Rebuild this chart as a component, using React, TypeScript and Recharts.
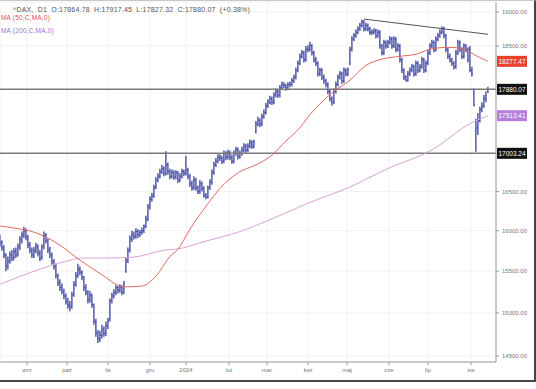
import React from 'react';
import { ComposedChart, Bar, Line, XAxis, YAxis, CartesianGrid, ReferenceLine } from 'recharts';

const monthLabels = ['wrz', 'paź', 'lis', 'gru', '2024', 'lut', 'mar', 'kwi', 'maj', 'cze', 'lip', 'sie'];
const monthTicks = [13.5, 33.5, 54, 75, 93, 114.5, 133.5, 154, 173.5, 194.5, 214, 235.5];
const yTicks = [14500, 15000, 15500, 16000, 16500, 18500, 19000];

const opens = [
  15900, 15850, 15780, 15690, 15560, 15630, 15700, 15670, 15740, 15710,
  15800, 15880, 15950, 15990, 15910, 15820, 15760, 15700, 15760, 15800,
  15720, 15670, 15800, 15940, 15870, 15770, 15700, 15620, 15560, 15440,
  15370, 15300, 15250, 15200, 15130, 15100, 15080, 15220, 15340, 15450,
  15520, 15480, 15420, 15300, 15240, 15160, 15200, 15090, 14900, 14770,
  14700, 14740, 14810, 14760, 14850, 14920, 15150, 15200, 15240, 15300,
  15270, 15300, 15250, 15500, 15630, 15760, 15890, 15950, 15930, 15990,
  15950, 15980, 16000, 16060, 16150, 16300, 16400, 16450, 16560, 16650,
  16700, 16760, 16800, 16740, 16850, 16760, 16700, 16750, 16690, 16740,
  16650, 16700, 16760, 16740, 16780, 16700, 16600, 16550, 16650, 16550,
  16500, 16600, 16540, 16450, 16430, 16550, 16620, 16750, 16850, 16900,
  16950, 16940, 16900, 17000, 16950, 17010, 16950, 16900, 17000, 17050,
  16960, 17000, 17050, 17100, 17050, 17100, 17150, 17100, 17300, 17400,
  17450, 17400, 17500, 17560, 17650, 17700, 17750, 17700, 17800, 17850,
  17800, 17900, 17950, 17930, 17900, 17950, 17950, 18000, 18050, 18150,
  18250, 18350, 18400, 18300, 18450, 18450, 18500, 18400, 18300, 18250,
  18100, 18150, 18050, 18000, 17950, 17850, 17750, 17700, 17850, 17950,
  18050, 18100, 18000, 18150, 18100, 18250, 18450, 18600, 18650, 18700,
  18750, 18800, 18850, 18750, 18800, 18750, 18700, 18700, 18720, 18650,
  18700, 18500, 18400, 18550, 18500, 18550, 18600, 18500, 18600, 18450,
  18500, 18300, 18150, 18050, 18000, 18100, 18150, 18200, 18100, 18250,
  18150, 18200, 18300, 18150, 18250, 18400, 18500, 18550, 18450, 18600,
  18650, 18700, 18750, 18650, 18450, 18350, 18300, 18250, 18200, 18400,
  18550, 18450, 18350, 18500, 18450, 18450, 18150, 17880, 17300, 17350,
  17450, 17600, 17650, 17750, 17864.78,
];

const highs = [
  15950, 15880, 15820, 15720, 15680, 15740, 15760, 15780, 15790, 15840,
  15930, 15990, 16050, 16030, 15950, 15860, 15790, 15800, 15850, 15830,
  15760, 15830, 15990, 15970, 15900, 15800, 15730, 15650, 15590, 15470,
  15400, 15350, 15290, 15230, 15180, 15140, 15250, 15380, 15490, 15590,
  15560, 15510, 15440, 15340, 15270, 15260, 15230, 15110, 14930, 14800,
  14790, 14860, 14840, 14900, 14940, 15170, 15240, 15280, 15330, 15320,
  15340, 15330, 15380, 15660, 15790, 15940, 16000, 15990, 16030, 16020,
  16010, 16040, 16080, 16190, 16340, 16440, 16480, 16590, 16690, 16740,
  16800, 16850, 16830, 17030, 16880, 16800, 16790, 16780, 16780, 16770,
  16740, 16800, 16790, 16970, 16810, 16730, 16640, 16700, 16680, 16580,
  16650, 16630, 16570, 16480, 16580, 16660, 16790, 16890, 16940, 16990,
  16990, 16970, 17040, 17030, 17050, 17040, 16980, 17040, 17090, 17080,
  17040, 17090, 17140, 17130, 17140, 17190, 17180, 17190, 17440, 17500,
  17480, 17540, 17600, 17690, 17740, 17790, 17780, 17840, 17890, 17880,
  17940, 17990, 17980, 17960, 17980, 17990, 18040, 18090, 18190, 18290,
  18390, 18440, 18430, 18500, 18510, 18560, 18530, 18430, 18340, 18280,
  18190, 18180, 18090, 18030, 17980, 17880, 17780, 17890, 17990, 18090,
  18140, 18130, 18190, 18180, 18190, 18490, 18640, 18690, 18740, 18790,
  18840, 18890, 18880, 18840, 18830, 18780, 18740, 18760, 18750, 18740,
  18730, 18530, 18590, 18580, 18590, 18640, 18630, 18640, 18630, 18540,
  18530, 18330, 18180, 18080, 18140, 18190, 18240, 18230, 18290, 18280,
  18240, 18340, 18330, 18290, 18440, 18540, 18590, 18580, 18640, 18690,
  18740, 18790, 18780, 18680, 18480, 18390, 18330, 18280, 18440, 18590,
  18580, 18480, 18540, 18530, 18480, 18500, 18200, 17890, 17470, 17550,
  17640, 17700, 17800, 17850, 17917.45,
];

const lows = [
  15800, 15750, 15660, 15500, 15520, 15590, 15620, 15630, 15660, 15680,
  15760, 15840, 15910, 15880, 15780, 15720, 15660, 15660, 15720, 15680,
  15620, 15640, 15770, 15840, 15720, 15660, 15580, 15520, 15410, 15320,
  15260, 15220, 15160, 15100, 15050, 15020, 15050, 15190, 15310, 15420,
  15450, 15390, 15260, 15210, 15110, 15120, 15060, 14860, 14720, 14650,
  14660, 14700, 14720, 14730, 14810, 14900, 15110, 15170, 15210, 15230,
  15240, 15210, 15220, 15480, 15600, 15730, 15860, 15890, 15900, 15910,
  15920, 15950, 15970, 16030, 16120, 16270, 16370, 16420, 16530, 16620,
  16670, 16730, 16700, 16710, 16720, 16660, 16670, 16650, 16660, 16610,
  16620, 16670, 16700, 16710, 16660, 16560, 16510, 16520, 16510, 16470,
  16470, 16500, 16420, 16400, 16410, 16520, 16590, 16720, 16820, 16870,
  16900, 16860, 16870, 16910, 16920, 16910, 16860, 16870, 16970, 16920,
  16930, 16970, 17020, 17010, 17020, 17070, 17060, 17070, 17270, 17370,
  17360, 17370, 17470, 17530, 17620, 17670, 17660, 17670, 17770, 17760,
  17770, 17870, 17900, 17860, 17870, 17910, 17920, 17970, 18020, 18120,
  18220, 18320, 18260, 18270, 18410, 18420, 18360, 18260, 18210, 18060,
  18070, 18010, 17960, 17910, 17810, 17710, 17650, 17670, 17820, 17920,
  18020, 17960, 17970, 18060, 18070, 18220, 18420, 18570, 18620, 18670,
  18720, 18770, 18710, 18720, 18710, 18660, 18660, 18670, 18610, 18620,
  18460, 18360, 18370, 18460, 18470, 18520, 18460, 18470, 18410, 18420,
  18260, 18110, 18010, 17990, 17990, 18070, 18120, 18060, 18070, 18110,
  18120, 18170, 18110, 18120, 18220, 18370, 18470, 18410, 18420, 18570,
  18620, 18670, 18610, 18410, 18310, 18260, 18210, 18160, 18170, 18370,
  18410, 18310, 18320, 18410, 18260, 18120, 18060, 17640, 17024, 17250,
  17420, 17560, 17620, 17700, 17827.32,
];

const closes = [
  15850, 15790, 15700, 15560, 15620, 15700, 15660, 15740, 15700, 15800,
  15890, 15940, 16000, 15920, 15820, 15760, 15700, 15750, 15800, 15720,
  15660, 15800, 15940, 15880, 15760, 15700, 15620, 15560, 15450, 15360,
  15300, 15260, 15200, 15140, 15090, 15070, 15210, 15340, 15440, 15520,
  15490, 15430, 15300, 15250, 15150, 15210, 15100, 14900, 14760, 14700,
  14740, 14800, 14760, 14850, 14900, 15140, 15200, 15240, 15300, 15270,
  15300, 15250, 15350, 15620, 15750, 15900, 15950, 15930, 15990, 15950,
  15980, 16000, 16050, 16150, 16300, 16400, 16440, 16550, 16650, 16700,
  16760, 16800, 16740, 16850, 16760, 16700, 16750, 16690, 16740, 16650,
  16700, 16760, 16740, 16780, 16700, 16600, 16550, 16650, 16550, 16500,
  16600, 16540, 16450, 16430, 16550, 16620, 16750, 16850, 16900, 16950,
  16940, 16900, 17000, 16950, 17010, 16950, 16900, 17000, 17050, 16960,
  17000, 17050, 17100, 17050, 17100, 17150, 17100, 17150, 17400, 17450,
  17400, 17500, 17560, 17650, 17700, 17750, 17700, 17800, 17850, 17800,
  17900, 17950, 17930, 17900, 17950, 17950, 18000, 18050, 18150, 18250,
  18350, 18400, 18300, 18450, 18450, 18500, 18400, 18300, 18250, 18100,
  18150, 18050, 18000, 17950, 17850, 17750, 17700, 17850, 17950, 18050,
  18100, 18000, 18150, 18100, 18150, 18450, 18600, 18650, 18700, 18750,
  18800, 18850, 18750, 18800, 18750, 18700, 18700, 18720, 18650, 18700,
  18500, 18400, 18550, 18500, 18550, 18600, 18500, 18600, 18450, 18500,
  18300, 18150, 18050, 18000, 18100, 18150, 18200, 18100, 18250, 18150,
  18200, 18300, 18150, 18250, 18400, 18500, 18550, 18450, 18600, 18650,
  18700, 18750, 18650, 18450, 18350, 18300, 18250, 18200, 18400, 18550,
  18450, 18350, 18500, 18450, 18300, 18150, 18100, 17660, 17340, 17450,
  17600, 17650, 17750, 17800, 17880.07,
];

const ma50Idx = [0, 8, 16, 23, 30, 38, 45, 52, 58, 63, 71, 78, 85, 89, 95, 103, 111, 120, 128, 136, 143, 150, 155, 158, 166, 175, 183, 191, 200, 208, 216, 225, 233, 238, 244];
const ma50Vals = [16060, 16030, 15990, 15920, 15820, 15670, 15550, 15440, 15340, 15310, 15320, 15440, 15680, 15770, 16020, 16310, 16570, 16760, 16850, 16980, 17170, 17350, 17530, 17620, 17830, 18010, 18220, 18310, 18350, 18380, 18460, 18480, 18440, 18360, 18277.47];

const ma200Idx = [0, 16, 33, 41, 50, 66, 83, 88, 103, 120, 136, 155, 175, 193, 216, 236, 244];
const ma200Vals = [15340, 15490, 15620, 15660, 15660, 15670, 15760, 15770, 15870, 15990, 16150, 16360, 16560, 16790, 17050, 17420, 17513.41];

const trendIdx = [182, 244];
const trendVals = [18895, 18670];

const levelValues = [17880.07, 17003.24];

const BAR = '#3a3fa2';

const bars = closes.map((c, i) => ({ i, open: opens[i], high: highs[i], low: lows[i], close: c, range: [lows[i], highs[i]] }));
const ma50Data = ma50Idx.map((i, k) => ({ i, v: ma50Vals[k] }));
const ma200Data = ma200Idx.map((i, k) => ({ i, v: ma200Vals[k] }));

const OhlcBar = (props: any) => {
  const { x, y, width, height, payload } = props;
  if (x == null || y == null || !payload) return null;
  const top = Math.min(y, y + height);
  const h = Math.abs(height);
  const cx = x + width / 2;
  const lh = Math.log(payload.high);
  const ll = Math.log(payload.low);
  const toY = (v: number) => top + (h * (lh - Math.log(v))) / (lh - ll);
  const oy = toY(payload.open);
  const cy = toY(payload.close);
  return (
    <g>
      <line x1={cx} x2={cx} y1={top} y2={top + h} stroke={BAR} strokeWidth={1.3} />
      <line x1={cx - 1} x2={cx} y1={oy} y2={oy} stroke={BAR} strokeWidth={0.9} />
      <line x1={cx} x2={cx + 1} y1={cy} y2={cy} stroke={BAR} strokeWidth={0.9} />
    </g>
  );
};

const PriceTag = (props: any) => {
  const { viewBox, fill, text } = props;
  if (!viewBox) return null;
  const x = viewBox.x + viewBox.width + 1;
  const y = viewBox.y;
  return (
    <g>
      <rect x={x} y={y - 5.5} width={30} height={11} fill={fill} />
      <text x={x + 15} y={y + 2.2} textAnchor="middle" fontSize={6.5} fill="#ffffff" fontFamily="Liberation Sans, Arial, sans-serif">
        {text}
      </text>
    </g>
  );
};

const font = 'Liberation Sans, Arial, sans-serif';

export default function App() {
  return (
    <div style={{ position: 'absolute', left: 0, top: 0, width: 536, height: 389, background: '#ffffff', overflow: 'hidden' }}>
      <div style={{ position: 'absolute', left: -2, top: 0, width: 536, height: 379, borderTop: '1px solid #c8c8c8', borderRight: '2px solid #444', borderBottom: '2px solid #444' }} />
      <div style={{ position: 'absolute', left: 0, top: 0 }}>
        <ComposedChart width={536} height={381} data={bars} margin={{ top: 2, right: 0, left: 0, bottom: 0 }} style={{ fontFamily: font }}>
          <CartesianGrid stroke="#f2f2f2" strokeWidth={1} />
          <XAxis
            dataKey="i"
            type="number"
            domain={[0, 248]}
            allowDataOverflow
            ticks={monthTicks}
            tickFormatter={(v: number, idx: number) => monthLabels[idx]}
            interval={0}
            height={19}
            tickSize={3}
            tickMargin={3}
            stroke="#9a9a9a"
            tick={{ fontSize: 6, fill: '#777' }}
          />
          <YAxis
            orientation="right"
            scale="log"
            type="number"
            domain={[14432, 19150]}
            allowDataOverflow
            ticks={yTicks}
            interval={0}
            width={40}
            tickSize={3}
            tickMargin={3}
            stroke="#9a9a9a"
            tickFormatter={(v: number) => v.toFixed(2)}
            tick={{ fontSize: 6, fill: '#777', textAnchor: 'start' }}
          />
          <ReferenceLine y={levelValues[0]} stroke="#7a7a7a" strokeWidth={1.5} label={<PriceTag fill="#111111" text="17880.07" />} />
          <ReferenceLine y={levelValues[1]} stroke="#7a7a7a" strokeWidth={1.5} label={<PriceTag fill="#111111" text="17003.24" />} />
          <Line data={ma200Data} dataKey="v" type="monotone" stroke="#d9a3da" strokeWidth={1} dot={false} isAnimationActive={false} />
          <Line data={ma50Data} dataKey="v" type="monotone" stroke="#e06a64" strokeWidth={1} dot={false} isAnimationActive={false} />
          <Bar dataKey="range" shape={<OhlcBar />} isAnimationActive={false} barSize={2} />
          <ReferenceLine
            segment={[{ x: trendIdx[0], y: trendVals[0] }, { x: trendIdx[1], y: trendVals[1] }]}
            stroke="#555555"
            strokeWidth={1}
            ifOverflow="visible"
          />
          <ReferenceLine y={ma50Vals[ma50Vals.length - 1]} stroke="none" label={<PriceTag fill="#e8412c" text="18277.47" />} />
          <ReferenceLine y={ma200Vals[ma200Vals.length - 1]} stroke="none" label={<PriceTag fill="#b57fd9" text="17513.41" />} />
        </ComposedChart>
      </div>
      <div style={{ position: 'absolute', left: 13, top: 6, fontSize: 7, letterSpacing: 0.2, wordSpacing: 2, color: '#555', fontFamily: font, whiteSpace: 'nowrap', lineHeight: '8px' }}>
        ^DAX, D1 O:17864.78 H:17917.45 L:17827.32 C:17880.07 (+0.38%)
      </div>
      <div style={{ position: 'absolute', left: 1, top: 14, fontSize: 6.5, letterSpacing: 0.2, color: '#e0504a', fontFamily: font, whiteSpace: 'nowrap', lineHeight: '8px' }}>
        MA (50,C,MA,0)
      </div>
      <div style={{ position: 'absolute', left: 1, top: 27, fontSize: 6.5, letterSpacing: 0.2, color: '#a070c8', fontFamily: font, whiteSpace: 'nowrap', lineHeight: '8px' }}>
        MA (200,C,MA,0)
      </div>
    </div>
  );
}
